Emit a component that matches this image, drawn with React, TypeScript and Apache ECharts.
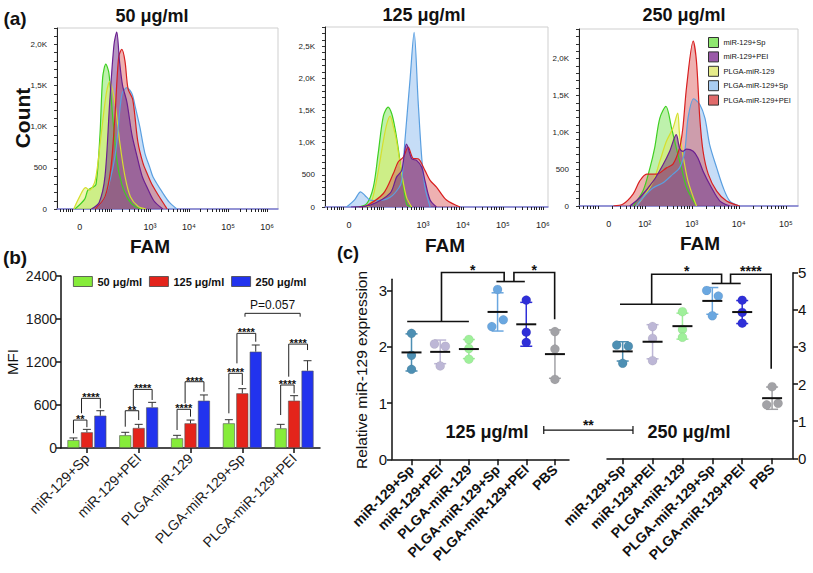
import React, { useEffect, useRef } from "react";
import * as echarts from "echarts";

const FONT = "'Liberation Sans', Arial, Helvetica, sans-serif";

// ---------------- (a) flow cytometry histograms ----------------
const histNames = ["miR-129+Sp", "miR-129+PEI", "PLGA-miR-129", "PLGA-miR-129+Sp", "PLGA-miR-129+PEI"];
// points: [FAM display position in decades, count]
const green50 = [[1.08, 0], [1.33, 120], [1.41, 230], [1.52, 260], [1.62, 300], [1.72, 900], [1.79, 1600], [1.87, 1760], [1.95, 1650], [2.05, 1100], [2.15, 600], [2.28, 300], [2.44, 120], [2.62, 30], [2.8, 0]];
const purple50 = [[1.5, 0], [1.7, 80], [1.85, 400], [1.97, 1300], [2.08, 2000], [2.15, 2150], [2.22, 1800], [2.3, 1500], [2.41, 1300], [2.54, 900], [2.67, 640], [2.8, 400], [2.92, 270], [3.1, 100], [3.33, 0]];
const yellow50 = [[1.05, 0], [1.2, 150], [1.35, 260], [1.45, 230], [1.6, 350], [1.75, 900], [1.88, 1400], [1.97, 1550], [2.1, 1300], [2.23, 800], [2.36, 400], [2.5, 150], [2.7, 30], [2.9, 0]];
const blue50 = [[1.6, 0], [1.85, 150], [2.05, 500], [2.15, 800], [2.28, 1390], [2.41, 1475], [2.54, 1400], [2.62, 1250], [2.74, 1000], [2.87, 680], [3.0, 500], [3.08, 390], [3.33, 195], [3.5, 80], [3.69, 0]];
const red50 = [[1.6, 0], [1.85, 150], [2.0, 500], [2.1, 1100], [2.2, 1850], [2.28, 1940], [2.36, 1800], [2.44, 1460], [2.56, 1330], [2.69, 820], [2.82, 560], [2.92, 440], [3.05, 300], [3.18, 195], [3.44, 0]];

const green125 = [[1.34, 0], [1.59, 50], [1.76, 310], [1.88, 830], [2.01, 1415], [2.13, 1555], [2.22, 1450], [2.3, 1230], [2.38, 925], [2.47, 520], [2.59, 50], [2.7, 0]];
const purple125 = [[1.2, 0], [1.68, 30], [2.18, 215], [2.34, 465], [2.47, 570], [2.59, 980], [2.72, 750], [2.84, 725], [2.97, 620], [3.05, 415], [3.18, 108], [3.34, 0]];
const yellow125 = [[1.5, 0], [1.68, 30], [1.84, 415], [2.01, 1030], [2.1, 1300], [2.18, 1415], [2.26, 1250], [2.34, 1030], [2.47, 520], [2.59, 150], [2.72, 0]];
const blue125 = [[1.09, 0], [1.3, 120], [1.44, 236], [1.55, 180], [1.68, 108], [1.9, 100], [2.18, 150], [2.4, 300], [2.47, 415], [2.55, 1030], [2.68, 2000], [2.78, 2715], [2.88, 1650], [2.97, 770], [3.05, 310], [3.18, 0]];
const red125 = [[1.4, 0], [1.59, 20], [2.01, 210], [2.26, 520], [2.38, 700], [2.51, 775], [2.63, 930], [2.76, 755], [2.88, 750], [3.05, 570], [3.18, 415], [3.34, 310], [3.59, 108], [3.93, 0]];

const green250 = [[1.75, 0], [1.96, 202], [2.11, 517], [2.21, 787], [2.32, 1192], [2.45, 1350], [2.57, 1057], [2.67, 787], [2.78, 517], [2.89, 247], [3.1, 0]];
const purple250 = [[1.68, 0], [1.89, 112], [2.18, 337], [2.39, 562], [2.53, 742], [2.67, 967], [2.74, 787], [2.81, 742], [2.89, 770], [3.03, 742], [3.13, 652], [3.24, 472], [3.42, 247], [3.6, 67], [3.81, 0]];
const yellow250 = [[1.82, 0], [1.96, 112], [2.18, 337], [2.32, 607], [2.46, 877], [2.6, 1057], [2.7, 1260], [2.74, 967], [2.81, 697], [2.92, 337], [3.1, 0]];
const blue250 = [[1.82, 0], [1.96, 112], [2.18, 247], [2.39, 315], [2.6, 432], [2.74, 517], [2.85, 742], [2.92, 1192], [3.04, 1454], [3.17, 1377], [3.28, 1192], [3.38, 833], [3.53, 517], [3.67, 247], [3.81, 67], [4.02, 0]];
const red250 = [[1.33, 0], [1.54, 27], [1.75, 160], [1.89, 337], [2.04, 432], [2.25, 432], [2.46, 517], [2.6, 567], [2.74, 787], [2.81, 1057], [2.89, 1620], [3.03, 2235], [3.1, 1957], [3.17, 1192], [3.24, 742], [3.35, 432], [3.53, 202], [3.74, 67], [4.02, 0]];

const histTitles = ["50 μg/ml", "125 μg/ml", "250 μg/ml"];
const histXMin = [0.62, 0.55, 0.6];
const histXMax = [6.28, 6.13, 5.26];
const histYMax = [2200, 2800, 2400];
const histZeroPos = [1.205, 1.15, 1.234];
const histDecadeLabels = [[3, 4, 5, 6], [3, 4, 5, 6], [2, 3, 4, 5]];

// ---------------- (b) MFI bar chart ----------------
const barCategories = ["miR-129+Sp", "miR-129+PEI", "PLGA-miR-129", "PLGA-miR-129+Sp", "PLGA-miR-129+PEI"];
const barLegend = ["50 μg/ml", "125 μg/ml", "250 μg/ml"];
const mfi50 = [110, 177, 135, 344, 274];
const mfi50Err = [30, 42, 42, 51, 56];
const mfi125 = [219, 279, 344, 763, 660];
const mfi125Err = [41, 51, 46, 65, 70];
const mfi250 = [451, 567, 660, 1344, 1079];
const mfi250Err = [69, 70, 80, 93, 139];
const mfiTicks = [0, 600, 1200, 1800, 2400];
// [catLeft, barLeft, catRight, barRight, top, leftLegBottom, rightLegBottom]
const mfiBrackets = [
  [0, 0, 0, 1, 390, 205, 290], [0, 0.6, 0, 2, 693, 484, 553],
  [1, 0, 1, 1, 520, 297, 390], [1, 0.6, 1, 2, 818, 576, 670],
  [2, 0, 2, 1, 540, 251, 437], [2, 0.6, 2, 2, 925, 623, 785],
  [3, 0, 3, 1, 1042, 484, 879], [3, 0.6, 3, 2, 1600, 1181, 1483],
  [4, 0, 4, 1, 879, 460, 763], [4, 0.6, 4, 2, 1450, 995, 1367],
  [3, 1.2, 4, 1.45, 1879, 1832, 1832],
];
const mfiBracketLabels = ["**", "****", "**", "****", "****", "****", "****", "****", "****", "****", "P=0.057"];

// ---------------- (c) relative miR-129 expression ----------------
const cCategories = ["miR-129+Sp", "miR-129+PEI", "PLGA-miR-129", "PLGA-miR-129+Sp", "PLGA-miR-129+PEI", "PBS"];
const expr125Points = [[2.24, 1.85, 1.6], [2.05, 2.01, 1.66], [2.13, 1.97, 1.78], [3.02, 2.36, 2.48], [2.83, 2.26, 2.08], [2.27, 1.96, 1.42]];
const expr125Jitter = [[0, 0, 0], [-0.2, 0.18, 0], [0, 0, 0], [0, -0.2, 0.2], [0, 0, 0], [0, 0, 0]];
const expr125Mean = [1.9, 1.91, 1.96, 2.62, 2.4, 1.87];
const expr125Sd = [0.33, 0.21, 0.17, 0.34, 0.39, 0.43];
const expr250Points = [[3.05, 3.02, 2.56], [3.55, 3.23, 2.63], [3.95, 3.47, 3.26], [4.52, 4.37, 3.84], [4.26, 3.93, 3.64], [1.93, 1.44, 1.48]];
const expr250Jitter = [[-0.2, 0.19, 0], [0, 0, 0], [0, 0, 0], [-0.19, 0.2, 0], [0, 0, 0], [0, -0.18, 0.2]];
const expr250Mean = [2.88, 3.14, 3.56, 4.24, 3.94, 1.62];
const expr250Sd = [0.26, 0.46, 0.35, 0.36, 0.31, 0.3];
const expr125Ticks = [0, 1, 2, 3];
const expr250Ticks = [0, 1, 2, 3, 4, 5];
// group bars [x1, x2, y]; links [xLeft, xRight, top, leftBottom, rightBottom]
const c125Groups = [[-0.15, 2.0, 2.45], [2.96, 3.95, 3.16]];
const c125Links = [[1.045, 3.23, 3.32, 2.45, 3.16], [3.57, 4.99, 3.32, 3.16, 2.49]];
const c125LinkLabels = ["*", "*"];
const c250Groups = [[-0.09, 1.97, 4.15], [2.98, 3.95, 4.71]];
const c250Links = [[0.97, 3.31, 4.96, 4.15, 4.71], [3.61, 4.97, 4.96, 4.71, 2.41]];
const c250LinkLabels = ["*", "****"];
// dose comparison (drawn in the 125 µg/ml coordinates): [x1, x2, y]
const doseCompare = [4.61, 7.72, 0.52];
const doseCompareLabel = "**";

// ---------------- styling ----------------
const histLine = ["#3fcf22", "#6b1f90", "#d5df2e", "#5a9fe0", "#d81f1f"];
const histFill = ["rgba(110,225,70,0.45)", "rgba(105,45,135,0.5)", "rgba(225,235,90,0.45)", "rgba(120,175,235,0.42)", "rgba(215,70,70,0.42)"];
const histLegendFill = ["#8fe870", "#9a5aa8", "#e6ec8a", "#a9cdf2", "#e06a6a"];
const barColors = ["#86ec3a", "#e4241b", "#2233ee"];
const cColors = ["#4d8fb3", "#bdb7d6", "#9ff09a", "#6aa7e0", "#2f2fd8", "#a2a2a6"];
const BAR_W = 12;
const BAR_STEP = 13.44;

const SUP: Record<number, string> = { 2: "²", 3: "³", 4: "⁴", 5: "⁵", 6: "⁶" };

function logTicks(min: number, max: number) {
  const out: number[] = [];
  for (let d = 0; d <= 7; d++) {
    for (let k = 1; k <= 9; k++) {
      const v = d + Math.log10(k);
      if (v >= min && v <= max) out.push(+v.toFixed(4));
    }
  }
  return out;
}

function range(step: number, max: number) {
  const out: number[] = [];
  for (let v = 0; v <= max + 1e-9; v += step) out.push(v);
  return out;
}

function buildOption() {
  const grid: any[] = [
    { left: 57, top: 28, width: 221, height: 181 },
    { left: 325, top: 27, width: 223, height: 180 },
    { left: 579, top: 29, width: 219, height: 177 },
    { left: 61, top: 276, width: 259, height: 172 },
    { left: 392, top: 279.3, width: 177, height: 180 },
    { left: 607, top: 272.7, width: 186, height: 185.6 },
  ].map((g, i) => ({
    ...g,
    outerBoundsMode: "none",
    containLabel: false,
    show: i < 3,
    borderColor: "#cfcfcf",
    borderWidth: 1,
  }));

  const xAxis: any[] = [];
  const yAxis: any[] = [];
  const black = { color: "#111", width: 1.5 };

  for (let i = 0; i < 3; i++) {
    xAxis.push({
      type: "value",
      gridIndex: i,
      min: histXMin[i],
      max: histXMax[i],
      splitLine: { show: false },
      axisLine: { show: true, onZero: false, lineStyle: { color: "#7a7ad0", width: 1.5 } },
      axisTick: { show: true, customValues: logTicks(histXMin[i], histXMax[i]), length: 3, lineStyle: { color: "#222" } },
      axisLabel: {
        customValues: [histZeroPos[i], ...histDecadeLabels[i]],
        formatter: (v: number) => (v < 1.9 ? "0" : "10" + SUP[Math.round(v)]),
        fontSize: 9,
        color: "#222",
        margin: 13,
        fontFamily: FONT,
      },
    });
    yAxis.push({
      type: "value",
      gridIndex: i,
      min: 0,
      max: histYMax[i],
      splitLine: { show: false },
      axisLine: { show: true, onZero: false, lineStyle: { color: "#222", width: 1 } },
      axisTick: { show: true, customValues: range(100, histYMax[i]), length: 3, lineStyle: { color: "#333" } },
      axisLabel: {
        customValues: range(500, histYMax[i]),
        formatter: (v: number) => (v === 0 ? "0" : v < 1000 ? String(v) : (v / 1000).toFixed(1).replace(".", ",") + "K"),
        fontSize: 8,
        color: "#222",
        margin: 10,
        fontFamily: FONT,
      },
    });
  }

  // (b)
  xAxis.push({
    type: "category",
    gridIndex: 3,
    data: barCategories,
    axisLine: { show: true, onZero: false, lineStyle: black },
    axisTick: { show: true, alignWithLabel: true, length: 5, lineStyle: black },
    axisLabel: { rotate: 45, fontSize: 14, color: "#1a1a1a", margin: 8, fontFamily: FONT },
  });
  yAxis.push({
    type: "value",
    gridIndex: 3,
    min: 0,
    max: 2400,
    interval: 600,
    splitLine: { show: false },
    axisLine: { show: true, onZero: false, lineStyle: black },
    axisTick: { show: true, length: 5, lineStyle: black },
    axisLabel: {
      customValues: mfiTicks,
      formatter: (v: number) => String(v),
      fontSize: 14,
      color: "#1a1a1a",
      margin: 4,
      fontFamily: FONT,
    },
  });

  // (c)
  const cX = (gi: number, min: number, max: number) => ({
    type: "value",
    gridIndex: gi,
    min,
    max,
    splitLine: { show: false },
    axisLine: { show: true, onZero: false, lineStyle: black },
    axisTick: { show: true, customValues: [0, 1, 2, 3, 4, 5], length: 6, lineStyle: black },
    axisLabel: {
      customValues: [0, 1, 2, 3, 4, 5],
      formatter: (v: number) => cCategories[Math.round(v)],
      rotate: 45,
      fontSize: 14,
      fontWeight: "bold",
      color: "#111",
      margin: 8,
      fontFamily: FONT,
    },
  });
  xAxis.push(cX(4, -0.68, 5.49));
  xAxis.push(cX(5, -0.525, 5.7));
  yAxis.push({
    type: "value",
    gridIndex: 4,
    min: 0,
    max: 3.2,
    splitLine: { show: false },
    axisLine: { show: true, onZero: false, lineStyle: black },
    axisTick: { show: true, customValues: expr125Ticks, length: 5, lineStyle: black },
    axisLabel: { customValues: expr125Ticks, formatter: (v: number) => String(v), fontSize: 15, color: "#111", margin: 5, fontFamily: FONT },
  });
  yAxis.push({
    type: "value",
    gridIndex: 5,
    position: "right",
    min: 0,
    max: 5,
    interval: 1,
    splitLine: { show: false },
    axisLine: { show: true, onZero: false, lineStyle: black },
    axisTick: { show: true, length: 5, lineStyle: black },
    axisLabel: { customValues: expr250Ticks, formatter: (v: number) => String(v), fontSize: 15, color: "#111", margin: 5, fontFamily: FONT },
  });

  const series: any[] = [];
  const histData = [
    [green50, purple50, yellow50, blue50, red50],
    [green125, purple125, yellow125, blue125, red125],
    [green250, purple250, yellow250, blue250, red250],
  ];
  const order = [0, 2, 3, 4, 1];
  histData.forEach((panel, gi) => {
    order.forEach((si) => {
      series.push({
        type: "line",
        name: histNames[si],
        xAxisIndex: gi,
        yAxisIndex: gi,
        data: panel[si],
        symbol: "none",
        showSymbol: false,
        smooth: 0.3,
        silent: true,
        lineStyle: { color: histLine[si], width: 1.2 },
        itemStyle: { color: histLine[si] },
        areaStyle: { color: histFill[si], opacity: 1 },
        z: 2,
      });
    });
  });

  // (b) bars
  const mfiVals = [mfi50, mfi125, mfi250];
  const mfiErrs = [mfi50Err, mfi125Err, mfi250Err];
  mfiVals.forEach((vals, i) => {
    series.push({
      type: "bar",
      name: barLegend[i],
      xAxisIndex: 3,
      yAxisIndex: 3,
      data: vals,
      barWidth: BAR_W,
      barGap: "12%",
      itemStyle: { color: barColors[i], borderColor: "#555", borderWidth: 0.6 },
      z: 2,
    });
  });
  const errData: number[][] = [];
  mfiVals.forEach((vals, bi) => vals.forEach((v, ci) => errData.push([ci, bi, v, mfiErrs[bi][ci]])));
  series.push({
    type: "custom",
    xAxisIndex: 3,
    yAxisIndex: 3,
    data: errData,
    silent: true,
    z: 3,
    renderItem: (params: any, api: any) => {
      const [ci, bi, v, e] = errData[params.dataIndex];
      const p0 = api.coord([ci, v]);
      const p1 = api.coord([ci, v + e]);
      const x = p0[0] + (bi - 1) * BAR_STEP;
      const st = { stroke: "#333", lineWidth: 1 };
      return {
        type: "group",
        children: [
          { type: "line", shape: { x1: x, y1: p0[1], x2: x, y2: p1[1] }, style: st },
          { type: "line", shape: { x1: x - 4, y1: p1[1], x2: x + 4, y2: p1[1] }, style: st },
        ],
      };
    },
  });
  series.push({
    type: "custom",
    xAxisIndex: 3,
    yAxisIndex: 3,
    data: mfiBrackets.map((_, i) => [i]),
    silent: true,
    clip: false,
    z: 4,
    renderItem: (params: any, api: any) => {
      const [cl, bl, cr, br, top, lb, rb] = mfiBrackets[params.dataIndex];
      const label = mfiBracketLabels[params.dataIndex];
      const xl = api.coord([cl, 0])[0] + (bl - 1) * BAR_STEP;
      const xr = api.coord([cr, 0])[0] + (br - 1) * BAR_STEP;
      const yt = api.coord([cl, top])[1];
      const yl = api.coord([cl, lb])[1];
      const yr = api.coord([cl, rb])[1];
      const isP = label.startsWith("P");
      return {
        type: "group",
        children: [
          {
            type: "polyline",
            shape: { points: [[xl, yl], [xl, yt], [xr, yt], [xr, yr]] },
            style: { stroke: "#222", lineWidth: 1, fill: null },
          },
          {
            type: "text",
            x: (xl + xr) / 2,
            y: isP ? yt - 2 : yt - 1,
            style: {
              text: label,
              align: "center",
              textAlign: "center",
              verticalAlign: isP ? "bottom" : "middle",
              textVerticalAlign: isP ? "bottom" : "middle",
              font: isP ? `12px ${FONT}` : `bold 11px ${FONT}`,
              fill: "#111",
            },
          },
        ],
      };
    },
  });

  // (c)
  const cPanels = [
    { pts: expr125Points, jit: expr125Jitter, mean: expr125Mean, sd: expr125Sd },
    { pts: expr250Points, jit: expr250Jitter, mean: expr250Mean, sd: expr250Sd },
  ];
  cPanels.forEach((p, k) => {
    const axisIdx = 4 + k;
    series.push({
      type: "custom",
      xAxisIndex: axisIdx,
      yAxisIndex: axisIdx,
      data: p.mean.map((m, i) => [i, m]),
      silent: true,
      z: 2,
      renderItem: (params: any, api: any) => {
        const i = params.dataIndex;
        const m = p.mean[i];
        const s = p.sd[i];
        const a = api.coord([i, m + s]);
        const b = api.coord([i, m - s]);
        const st = { stroke: cColors[i], lineWidth: 1.5 };
        return {
          type: "group",
          children: [
            { type: "line", shape: { x1: a[0], y1: a[1], x2: b[0], y2: b[1] }, style: st },
            { type: "line", shape: { x1: a[0] - 6, y1: a[1], x2: a[0] + 6, y2: a[1] }, style: st },
            { type: "line", shape: { x1: b[0] - 6, y1: b[1], x2: b[0] + 6, y2: b[1] }, style: st },
          ],
        };
      },
    });
    const scatterData: any[] = [];
    p.pts.forEach((vals, i) =>
      vals.forEach((v, j) => scatterData.push({ value: [i + p.jit[i][j], v], itemStyle: { color: cColors[i] } }))
    );
    series.push({
      type: "scatter",
      xAxisIndex: axisIdx,
      yAxisIndex: axisIdx,
      data: scatterData,
      symbolSize: 9,
      silent: true,
      itemStyle: { borderColor: "rgba(0,0,0,0.12)", borderWidth: 0.5, opacity: 1 },
      z: 3,
    });
    series.push({
      type: "custom",
      xAxisIndex: axisIdx,
      yAxisIndex: axisIdx,
      data: p.mean.map((m, i) => [i, m]),
      silent: true,
      z: 4,
      renderItem: (params: any, api: any) => {
        const i = params.dataIndex;
        const c = api.coord([i, p.mean[i]]);
        return {
          type: "line",
          shape: { x1: c[0] - 10, y1: c[1], x2: c[0] + 10, y2: c[1] },
          style: { stroke: "#111", lineWidth: 2 },
        };
      },
    });
  });

  const bracketSeries = (axisIdx: number, groups: number[][], links: number[][], labels: string[], extra: boolean) => ({
    type: "custom",
    xAxisIndex: axisIdx,
    yAxisIndex: axisIdx,
    data: [[0, 0]],
    silent: true,
    clip: false,
    z: 5,
    renderItem: (params: any, api: any) => {
      const P = (x: number, y: number) => api.coord([x, y]);
      const st = { stroke: "#111", lineWidth: 1.6, fill: null };
      const children: any[] = [];
      groups.forEach(([x1, x2, y]) => {
        const a = P(x1, y);
        const b = P(x2, y);
        children.push({ type: "line", shape: { x1: a[0], y1: a[1], x2: b[0], y2: b[1] }, style: st });
      });
      links.forEach(([x1, x2, top, lb, rb], i) => {
        children.push({
          type: "polyline",
          shape: { points: [P(x1, lb), P(x1, top), P(x2, top), P(x2, rb)] },
          style: st,
        });
        const m = P((x1 + x2) / 2, top);
        children.push({
          type: "text",
          x: m[0],
          y: m[1] - 3,
          style: {
            text: labels[i],
            align: "center",
            textAlign: "center",
            verticalAlign: "middle",
            textVerticalAlign: "middle",
            font: `bold 14px ${FONT}`,
            fill: "#111",
          },
        });
      });
      if (extra) {
        const [x1, x2, y] = doseCompare;
        const a = P(x1, y);
        const b = P(x2, y);
        const ls = { stroke: "#111", lineWidth: 1.2 };
        children.push({ type: "line", shape: { x1: a[0], y1: a[1], x2: b[0], y2: b[1] }, style: ls });
        children.push({ type: "line", shape: { x1: a[0], y1: a[1] - 4, x2: a[0], y2: a[1] + 4 }, style: ls });
        children.push({ type: "line", shape: { x1: b[0], y1: b[1] - 4, x2: b[0], y2: b[1] + 4 }, style: ls });
        children.push({
          type: "text",
          x: (a[0] + b[0]) / 2,
          y: a[1] - 5,
          style: {
            text: doseCompareLabel,
            align: "center",
            textAlign: "center",
            verticalAlign: "middle",
            textVerticalAlign: "middle",
            font: `bold 14px ${FONT}`,
            fill: "#111",
          },
        });
      }
      return { type: "group", children };
    },
  });
  series.push(bracketSeries(4, c125Groups, c125Links, c125LinkLabels, true));
  series.push(bracketSeries(5, c250Groups, c250Links, c250LinkLabels, false));

  const legend: any[] = [
    {
      orient: "vertical",
      left: 708,
      top: 37,
      padding: 0,
      itemWidth: 10,
      itemHeight: 10,
      itemGap: 3.4,
      selectedMode: false,
      textStyle: { fontSize: 7.5, color: "#111", fontFamily: FONT },
      data: histNames.map((n, i) => ({
        name: n,
        icon: "rect",
        itemStyle: { color: histLegendFill[i], borderColor: "#333", borderWidth: 1 },
      })),
    },
    {
      orient: "horizontal",
      left: 73,
      top: 276,
      padding: 0,
      itemWidth: 19,
      itemHeight: 10,
      itemGap: 7,
      selectedMode: false,
      textStyle: { fontSize: 11, fontWeight: "bold", color: "#111", fontFamily: FONT },
      data: barLegend.map((n, i) => ({
        name: n,
        icon: "rect",
        itemStyle: { color: barColors[i], borderColor: "#444", borderWidth: 0.8 },
      })),
    },
  ];

  const txt = (text: string, x: number, y: number, size: number, bold: boolean, rot = 0) => ({
    type: "text",
    x,
    y,
    rotation: rot,
    silent: true,
    style: {
      text,
      align: "center",
      textAlign: "center",
      verticalAlign: "middle",
      textVerticalAlign: "middle",
      font: `${bold ? "bold " : ""}${size}px ${FONT}`,
      fill: "#111",
    },
  });

  const graphic = [
    txt("(a)", 15, 18, 19, true),
    txt(histTitles[0], 152, 16, 18, true),
    txt(histTitles[1], 424, 15, 18, true),
    txt(histTitles[2], 684, 15, 18, true),
    txt("Count", 22, 118, 21, true, Math.PI / 2),
    txt("FAM", 150, 246, 19, true),
    txt("FAM", 445, 245, 19, true),
    txt("FAM", 700, 243, 19, true),
    txt("(b)", 15, 257, 19, true),
    txt("MFI", 12, 362, 15, false, Math.PI / 2),
    txt("(c)", 348, 253, 18, true),
    txt("Relative miR-129 expression", 361, 370, 15.5, false, Math.PI / 2),
    txt("125 μg/ml", 487, 432, 18, true),
    txt("250 μg/ml", 689, 432, 18, true),
  ];

  return {
    animation: false,
    backgroundColor: "#fff",
    textStyle: { fontFamily: FONT },
    grid,
    xAxis,
    yAxis,
    legend,
    series,
    graphic,
  };
}

export default function App() {
  const ref = useRef<HTMLDivElement>(null);
  useEffect(() => {
    const chart = echarts.init(ref.current!, null, { renderer: "svg" });
    chart.setOption(buildOption() as any);
    return () => chart.dispose();
  }, []);
  return (
    <div
      ref={ref}
      style={{ position: "fixed", left: 0, top: 0, width: 813, height: 573, background: "#fff" }}
    />
  );
}
